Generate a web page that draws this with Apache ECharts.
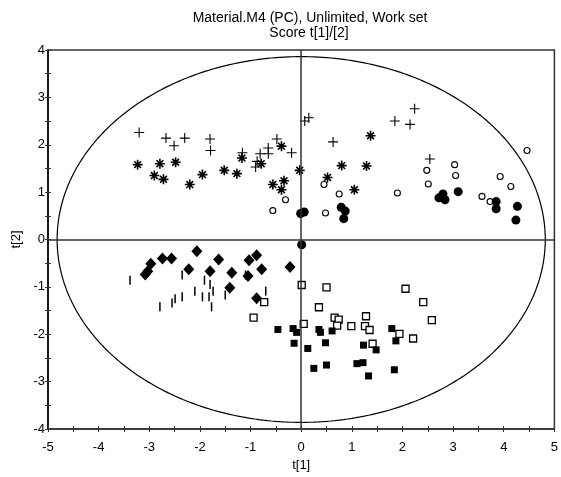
<!DOCTYPE html>
<html><head><meta charset="utf-8">
<script src="https://cdn.jsdelivr.net/npm/echarts@6/dist/echarts.min.js"></script>
<style>html,body{margin:0;padding:0;background:#fff}#c{width:561px;height:477px}</style>
</head><body><div id="c"></div>
<script>
const titleLine1 = 'Material.M4 (PC), Unlimited, Work set';
const titleLine2 = 'Score t[1]/[2]';
const xName = 't[1]';
const yName = 't[2]';
const ellipseRadiusX = 4.82;
const ellipseRadiusY = 3.86;

const plusPts = [[-3.20,2.26],[-2.67,2.14],[-2.51,1.98],[-2.30,2.14],[-1.80,2.12],[-1.79,1.88],[-1.16,1.83],[-0.90,1.53],[-0.87,1.65],[-0.81,1.81],[-0.65,1.93],[-0.65,1.81],[-0.48,2.12],[-0.19,1.83],[0.07,2.50],[0.15,2.57],[0.63,2.06],[1.85,2.50],[2.15,2.43],[2.24,2.76],[2.54,1.70]];
const starPts = [[-3.23,1.58],[-2.90,1.35],[-2.79,1.60],[-2.72,1.27],[-2.48,1.63],[-2.20,1.16],[-1.95,1.37],[-1.52,1.46],[-1.27,1.39],[-1.17,1.72],[-0.79,1.60],[-0.56,1.16],[-0.39,1.97],[-0.39,1.05],[-0.34,1.24],[-0.03,1.46],[0.52,1.31],[0.80,1.56],[1.05,1.05],[1.29,1.55],[1.37,2.19]];
const openCirclePts = [[-0.56,0.61],[-0.31,0.84],[0.45,1.16],[0.48,0.56],[0.75,0.96],[1.90,0.98],[2.48,1.46],[2.51,1.17],[3.03,1.58],[3.05,1.35],[3.57,0.91],[3.73,0.80],[3.93,1.33],[4.14,1.12],[4.46,1.88]];
const filledCirclePts = [[-0.01,0.55],[0.06,0.58],[0.79,0.68],[0.87,0.60],[0.84,0.44],[2.72,0.88],[2.80,0.96],[2.84,0.84],[3.10,1.01],[3.85,0.80],[3.85,0.65],[4.27,0.70],[4.24,0.41],[0.01,-0.11]];
const diamondPts = [[-3.08,-0.74],[-3.03,-0.67],[-2.97,-0.51],[-2.74,-0.40],[-2.56,-0.40],[-2.22,-0.63],[-2.06,-0.25],[-1.80,-0.67],[-1.63,-0.42],[-1.41,-1.02],[-1.37,-0.70],[-1.05,-0.77],[-1.03,-0.44],[-0.88,-0.33],[-0.88,-1.24],[-0.78,-0.63],[-0.22,-0.58]];
const barPts = [[-3.38,-0.86],[-2.79,-1.42],[-2.55,-1.34],[-2.49,-1.25],[-2.35,-0.75],[-2.35,-1.21],[-2.10,-1.09],[-1.95,-1.21],[-1.91,-0.86],[-1.82,-1.21],[-1.80,-0.95],[-1.77,-1.42],[-1.74,-1.09],[-1.50,-1.17],[-1.10,-0.75],[-0.70,-1.09]];
const openSquarePts = [[-0.73,-1.32],[-0.94,-1.65],[0.01,-0.96],[0.05,-1.78],[0.50,-1.01],[0.35,-1.43],[0.66,-1.65],[0.74,-1.69],[0.71,-1.82],[0.99,-1.83],[1.26,-1.83],[1.28,-1.62],[1.35,-1.91],[1.41,-2.20],[1.94,-1.99],[2.06,-1.04],[2.21,-2.09],[2.41,-1.32],[2.58,-1.70]];
const filledSquarePts = [[-0.46,-1.90],[-0.16,-1.88],[-0.09,-1.96],[-0.14,-2.19],[0.13,-2.30],[0.25,-2.72],[0.35,-1.90],[0.38,-1.96],[0.48,-2.18],[0.50,-2.65],[0.61,-1.93],[1.10,-2.62],[1.22,-2.60],[1.23,-2.23],[1.33,-2.88],[1.48,-2.33],[1.79,-1.88],[1.87,-2.14],[1.84,-2.75]];

const ellipse = [];
for (let i = 0; i <= 360; i++) {
  const a = i * Math.PI / 180;
  ellipse.push([ellipseRadiusX * Math.cos(a), ellipseRadiusY * Math.sin(a)]);
}

const FONT = 'Liberation Sans, Arial, Helvetica, sans-serif';
const AX = '#333';
const halfFmt = v => (Math.abs(v - Math.round(v)) < 1e-9 ? String(Math.round(v)) : '');

function scatter(data, symbol, size, fill, border, bw) {
  return {
    type: 'scatter', data, symbol, symbolSize: size, silent: true,
    itemStyle: { color: fill, borderColor: border, borderWidth: bw, opacity: 1 },
    emphasis: { disabled: true }
  };
}

const chart = echarts.init(document.getElementById('c'), null, { renderer: 'canvas' });
chart.setOption({
  animation: false,
  backgroundColor: '#fff',
  graphic: [
    { type: 'text', x: 310, y: 18, silent: true,
      style: { text: titleLine1, font: '14px ' + FONT, fill: '#000', align: 'center', verticalAlign: 'middle' } },
    { type: 'text', x: 309, y: 33, silent: true,
      style: { text: titleLine2, font: '14px ' + FONT, fill: '#000', align: 'center', verticalAlign: 'middle' } }
  ],
  grid: { left: 48, right: 4, top: 50, bottom: 48, show: true, borderColor: AX, borderWidth: 1.5, containLabel: false },
  xAxis: [
    { type: 'value', min: -5, max: 5, interval: 0.5, position: 'bottom',
      name: xName, nameLocation: 'middle', nameGap: 30,
      nameTextStyle: { fontFamily: FONT, fontSize: 13, color: '#000' },
      axisLine: { onZero: false, lineStyle: { color: AX, width: 1.5 } },
      axisTick: { show: true, inside: false, length: 3, lineStyle: { color: AX } },
      axisLabel: { formatter: halfFmt, fontFamily: FONT, fontSize: 13, color: '#000', margin: 12, showMinLabel: true, showMaxLabel: true },
      splitLine: { show: false } },
    { type: 'value', min: -5, max: 5, interval: 0.5, position: 'bottom', gridIndex: 0,
      axisLine: { show: false, onZero: false },
      axisTick: { show: true, inside: true, length: 3, lineStyle: { color: AX } },
      axisLabel: { show: false }, splitLine: { show: false } }
  ],
  yAxis: [
    { type: 'value', min: -4, max: 4, interval: 0.5, position: 'left',
      name: yName, nameLocation: 'middle', nameGap: 25, nameRotate: 90,
      nameTextStyle: { fontFamily: FONT, fontSize: 13, color: '#000' },
      axisLine: { onZero: false, lineStyle: { color: '#000', width: 1.5 } },
      axisTick: { show: true, inside: false, length: 3, lineStyle: { color: AX } },
      axisLabel: { formatter: halfFmt, fontFamily: FONT, fontSize: 13, color: '#000', margin: 3, showMinLabel: true, showMaxLabel: true },
      splitLine: { show: false } },
    { type: 'value', min: -4, max: 4, interval: 0.5, position: 'left', gridIndex: 0,
      axisLine: { show: false, onZero: false },
      axisTick: { show: true, inside: true, length: 3, lineStyle: { color: AX } },
      axisLabel: { show: false }, splitLine: { show: false } }
  ],
  series: [
    { type: 'line', data: ellipse, showSymbol: false, symbol: 'none', silent: true,
      lineStyle: { color: '#000', width: 1.2 }, z: 1,
      markLine: { silent: true, symbol: 'none', label: { show: false },
        lineStyle: { color: AX, width: 1.5, type: 'solid' },
        data: [{ xAxis: 0 }, { yAxis: 0 }] } },
    scatter(plusPts, 'path://M5,0L5,10M0,5L10,5', 10, '#000', '#000', 1.1),
    scatter(starPts, 'path://M0,5L10,5M5,0L5,10M1.6,1.6L8.4,8.4M8.4,1.6L1.6,8.4', 10, '#000', '#000', 1.6),
    scatter(openCirclePts, 'circle', 6, '#fff', '#000', 1.1),
    scatter(filledCirclePts, 'circle', 9, '#000', '#000', 0),
    scatter(diamondPts, 'diamond', [11, 12], '#000', '#000', 0),
    scatter(barPts, 'rect', [1.5, 9], '#000', '#000', 0),
    scatter(openSquarePts, 'rect', 7, '#fff', '#000', 1.3),
    scatter(filledSquarePts, 'rect', 7, '#000', '#000', 0)
  ]
});
</script>
</body></html>
